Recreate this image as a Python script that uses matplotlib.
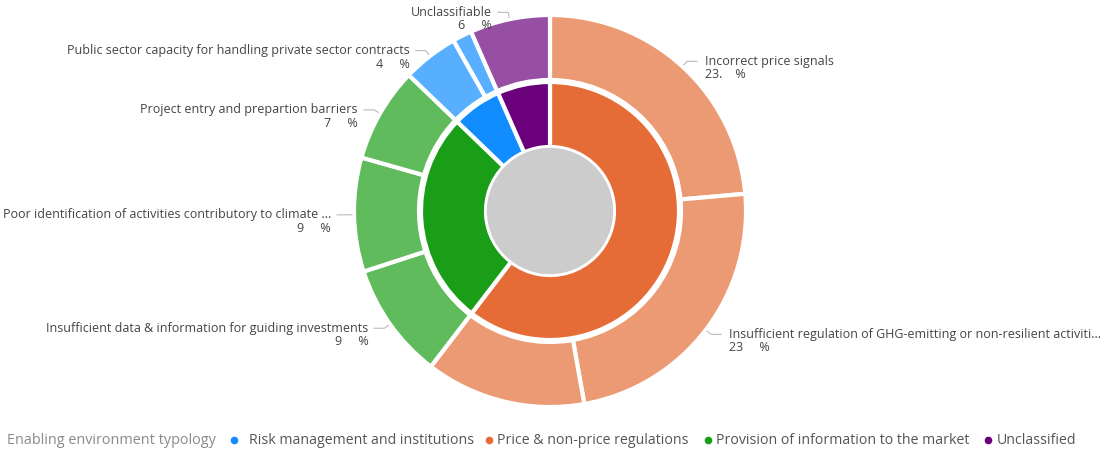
import numpy as np
import matplotlib
matplotlib.use("Agg")
import matplotlib.pyplot as plt
from matplotlib.lines import Line2D

# ---- data ----
inner_labels = ["Price & non-price regulations", "Provision of information to the market",
                "Risk management and institutions", "Unclassified"]
outer_labels = ["Incorrect price signals",
                "Insufficient regulation of GHG-emitting or non-resilient activiti...",
                "Other price & non-price regulations",
                "Insufficient data & information for guiding investments",
                "Poor identification of activities contributory to climate ...",
                "Project entry and prepartion barriers",
                "Public sector capacity for handling private sector contracts",
                "Other risk management and institutions",
                "Unclassifiable"]
outer_values = [23.6, 23.6, 13.2, 9.6, 9.4, 7.8, 4.6, 1.6, 6.6]
outer_parent = [0, 0, 0, 1, 1, 1, 2, 2, 3]
outer_value_text = ["23.    %", "23     %", None, "9     %", "9     %", "7     %", "4     %", None, "6     %"]
legend_title = "Enabling environment typology"
legend_order = [2, 0, 1, 3]

inner_values = [sum(v for v, p in zip(outer_values, outer_parent) if p == i) for i in range(4)]

inner_colors = ["#E66C37", "#1A9E17", "#118DFF", "#6B007B"]
outer_colors_by_parent = ["#EC9A73", "#5FBB5C", "#58AEFF", "#974FA3"]
outer_colors = [outer_colors_by_parent[p] for p in outer_parent]

plt.rcParams['font.family'] = ['Open Sans', 'DejaVu Sans']

W, H = 1108, 454
fig = plt.figure(figsize=(W / 100, H / 100), dpi=100)
cx, cy, R = 550, 211, 196
half = 200
ax = fig.add_axes([(cx - half) / W, (H - cy - half) / H, 2 * half / W, 2 * half / H])

wp = dict(edgecolor='white', linewidth=3, joinstyle='round')
ax.pie(outer_values, radius=1.0, startangle=90, counterclock=False,
       colors=outer_colors, wedgeprops=dict(width=65 / R, **wp))
ax.pie(inner_values, radius=129 / R, startangle=90, counterclock=False,
       colors=inner_colors, wedgeprops=dict(width=(129 - 64) / R, **wp))
ax.add_patch(plt.Circle((0, 0), 64 / R, facecolor='#CCCCCC', edgecolor='white', linewidth=1.2))

lim = half / R
ax.set_xlim(-lim, lim)
ax.set_ylim(-lim, lim)
ax.set_aspect('equal')
ax.axis('off')

# ---- labels ----
total = sum(outer_values)
cum = 0.0
px = 1.0 / R
for lab, val, vt in zip(outer_labels, outer_values, outer_value_text):
    mid = (cum + val / 2) / total
    cum += val
    if vt is None:
        continue
    ang = np.pi / 2 - 2 * np.pi * mid
    x0, y0 = np.cos(ang), np.sin(ang)
    right = x0 > 0
    sgn = 1 if right else -1
    x1, y1 = x0 * (1 + 7 * px), y0 * (1 + 7 * px)
    x2 = x1 + sgn * 10 * px
    ax.plot([x0 * (1 + 2 * px), x1, x2], [y0 * (1 + 2 * px), y1, y1], color='#BBBBBB',
            lw=0.8, clip_on=False)
    tx = x2 + sgn * (8 if right else 6) * px
    ha = 'left' if right else 'right'
    ax.text(tx, y1, lab, ha=ha, va='center', fontsize=9.0, color='#444444',
            clip_on=False)
    ax.text(tx, y1 - 13.5 * px, vt, ha=ha, va='center', fontsize=9.0, color='#444444',
            clip_on=False)

# ---- legend ----
fig.text(7 / W, 1 - 441 / H, legend_title, ha='left', va='center', fontsize=10.4,
         color='#8A8A8A')
dot_x = [234, 489, 708, 988]
txt_x = [249, 497, 716, 997]
for i, dx, tx in zip(legend_order, dot_x, txt_x):
    fig.add_artist(Line2D([dx / W], [1 - 440 / H], marker='o', linestyle='none',
                          markersize=5.5, markerfacecolor=inner_colors[i],
                          markeredgecolor='none', transform=fig.transFigure))
    fig.text(tx / W, 1 - 441 / H, inner_labels[i], ha='left', va='center',
             fontsize=10.2, color='#555555')

fig.savefig("out.png", dpi=100, facecolor='white')
